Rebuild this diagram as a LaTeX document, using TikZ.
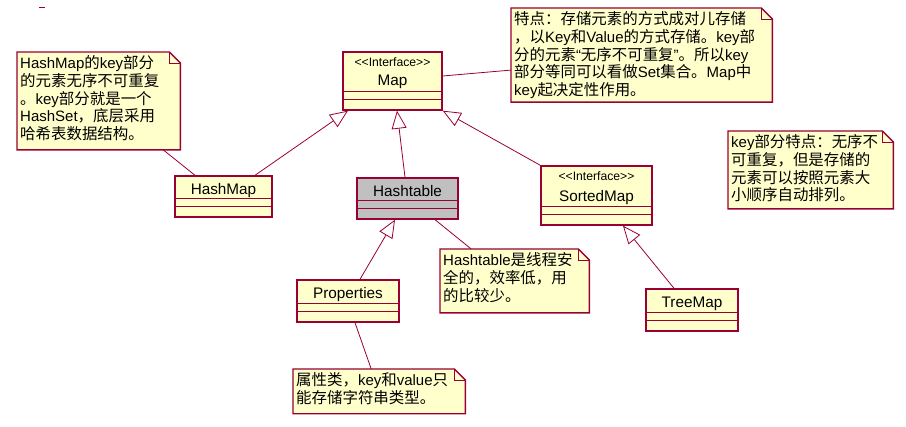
\documentclass[tikz,border=0pt]{standalone}
\usepackage{fontspec}
\setmainfont{Liberation Sans}
\newfontfamily\cjkfont{Noto Sans CJK SC}[Scale=1.03]
\usetikzlibrary{arrows.meta}

% Chinese runs switch to the CJK font by themselves
\XeTeXinterchartokenstate=1
\chardef\cjkclass=10
\newcount\cjkcode
\newcommand\setcjkrange[2]{%
  \cjkcode=#1
  \loop\XeTeXcharclass\cjkcode=\cjkclass
  \ifnum\cjkcode<#2 \advance\cjkcode by 1 \repeat}
\setcjkrange{"3000}{"303F}
\setcjkrange{"4E00}{"9FFF}
\setcjkrange{"FF00}{"FFEF}
\XeTeXcharclass"201C=0
\XeTeXcharclass"201D=0
\XeTeXinterchartoks 0 \cjkclass = {\cjkfont}
\XeTeXinterchartoks 4095 \cjkclass = {\cjkfont}
\XeTeXinterchartoks \cjkclass 0 = {\rmfamily}
\XeTeXinterchartoks \cjkclass 4095 = {\rmfamily}

\definecolor{roseline}{RGB}{153,0,51}
\definecolor{rosefill}{RGB}{255,255,204}
\definecolor{rosegray}{RGB}{192,192,192}

\pgfdeclarelayer{background}
\pgfsetlayers{background,main}

\tikzset{
  cls/.style={draw=roseline, line width=1.4pt, fill=rosefill, inner sep=0pt,
    font=\fontsize{15.3}{18}\selectfont,
    path picture={\draw[roseline, line width=1.2pt]
      ([yshift=10.5pt]path picture bounding box.south west) -- ([yshift=10.5pt]path picture bounding box.south east)
      ([yshift=18.5pt]path picture bounding box.south west) -- ([yshift=18.5pt]path picture bounding box.south east);}},
  stereo/.style={anchor=base, yshift=-15.5pt, inner sep=0pt, font=\fontsize{12.2}{13}\selectfont},
  note/.style={anchor=north west, align=left, inner xsep=3pt, inner ysep=3pt,
    font=\fontsize{15}{17.9}\selectfont, execute at end node={\rule[-#1]{0pt}{0pt}}},
  notebox/.style={draw=roseline, line width=1.4pt, fill=rosefill},
  inherit/.style={draw=roseline, line width=0.8pt, -{Triangle[open, fill=white, length=18pt, width=15pt]}},
  link/.style={draw=roseline, line width=0.8pt},
}

\begin{document}
\begin{tikzpicture}[x=1pt, y=-1pt]
	\useasboundingbox (0,0) rectangle (906,427);

	% classes
	\node[cls, minimum width=99pt, text height=34pt, text depth=24pt,
		label={[stereo]north:<\kern0pt<Interface>\kern0pt>}] (map) at (392.5,81) {Map};
	\node[cls, minimum width=97pt, text height=18.5pt, text depth=22.5pt] (hashmap) at (223.5,196.5) {HashMap};
	\node[cls, fill=rosegray, minimum width=101pt, text height=18.5pt, text depth=22.5pt] (hashtable) at (407.5,198.5) {Hashtable};
	\node[cls, minimum width=111pt, text height=35.5pt, text depth=23.5pt,
		label={[stereo]north:<\kern0pt<Interface>\kern0pt>}] (sortedmap) at (596.5,195.5) {SortedMap};
	\node[cls, minimum width=102pt, text height=18.5pt, text depth=23.5pt] (properties) at (348,301) {Properties};
	\node[cls, minimum width=92pt, text height=18.5pt, text depth=23.5pt] (treemap) at (692,310) {TreeMap};

	% notes
	\node[note=6.8pt, text width=157pt] (hmnote) at (17,52) {HashMap的key部分\\
		的元素无序不可重复\\
		。key部分就是一个\\
		HashSet，底层采用\\
		哈希表数据结构。};
	\node[note=2.8pt, text width=255pt] (mapnote) at (511,8) {特点：存储元素的方式成对儿存储\\
		，以Key和Value的方式存储。key部\\
		分的元素“无序不可重复”。所以key\\
		部分等同可以看做Set集合。Map中\\
		key起决定性作用。};
	\node[note=4.7pt, text width=159pt] (keynote) at (728,131) {key部分特点：无序不\\
		可重复，但是存储的\\
		元素可以按照元素大\\
		小顺序自动排列。};
	\node[note=8.6pt, text width=143pt] (htnote) at (440,249) {Hashtable是线程安\\
		全的，效率低，用\\
		的比较少。};
	\node[note=7.5pt, text width=166pt] (propnote) at (293,369) {属性类，key和value只\\
		能存储字符串类型。};

	\begin{pgfonlayer}{background}
		\foreach \n in {hmnote,mapnote,keynote,htnote,propnote} {
			\draw[notebox] (\n.north west) -- ([xshift=-11pt]\n.north east) -- ([yshift=-11pt]\n.north east)
				-- (\n.south east) -- (\n.south west) -- cycle;
			\draw[roseline, line width=0.8pt] ([xshift=-11pt]\n.north east) -- ([xshift=-11pt,yshift=-11pt]\n.north east)
				-- ([yshift=-11pt]\n.north east);
		}
	\end{pgfonlayer}

	% generalization
	\draw[inherit] ([xshift=31.5pt]hashmap.north) -- ([xshift=-44.5pt]map.south);
	\draw[inherit] ([xshift=-2.5pt]hashtable.north) -- ([xshift=4.5pt]map.south);
	\draw[inherit] (sortedmap.north west) -- (map.south east);
	\draw[inherit] ([xshift=12pt]properties.north) -- ([xshift=-12.5pt]hashtable.south);
	\draw[inherit] ([xshift=-18pt]treemap.north) -- ([xshift=26.5pt]sortedmap.south);

	% note links
	\draw[link] ([xshift=64.5pt]hmnote.south) -- ([xshift=-28.5pt]hashmap.north);
	\draw[link] ([yshift=5pt]map.east) -- ([yshift=-15pt]mapnote.west);
	\draw[link] ([xshift=27.5pt]hashtable.south) -- ([xshift=-43.5pt]htnote.north);
	\draw[link] ([xshift=7pt]properties.south) -- ([xshift=-8pt]propnote.north);

	\draw[roseline, line width=0.8pt] (39,7) -- (45,7);
\end{tikzpicture}
\end{document}
